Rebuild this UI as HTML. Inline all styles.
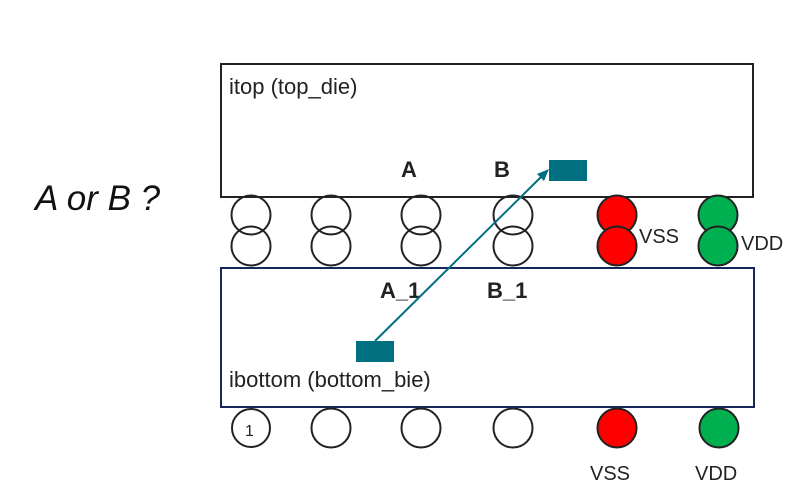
<!DOCTYPE html>
<html><head><style>
body{margin:0;background:#fff}
svg{display:block;font-family:"Liberation Sans",sans-serif}
</style></head><body>
<svg width="800" height="500" viewBox="0 0 800 500">
<rect x="221" y="64" width="532" height="133" fill="none" stroke="#222" stroke-width="2"/>
<text x="229" y="94" font-size="22" fill="#222">itop (top_die)</text>
<rect x="221" y="268" width="533" height="139" fill="none" stroke="#14285a" stroke-width="2"/>
<text x="229" y="387" font-size="22" fill="#222">ibottom (bottom_bie)</text>
<text x="35" y="210" font-size="35" font-style="italic" fill="#111">A or B ?</text>
<g fill="none" stroke="#222" stroke-width="2">
<circle cx="251" cy="215" r="19.5"/><circle cx="251" cy="246" r="19.5"/>
<circle cx="331" cy="215" r="19.5"/><circle cx="331" cy="246" r="19.5"/>
<circle cx="421" cy="215" r="19.5"/><circle cx="421" cy="246" r="19.5"/>
<circle cx="513" cy="215" r="19.5"/><circle cx="513" cy="246" r="19.5"/>
<circle cx="251" cy="428" r="19"/><circle cx="331" cy="428" r="19.5"/>
<circle cx="421" cy="428" r="19.5"/><circle cx="513" cy="428" r="19.5"/>
</g>
<g stroke="#222" stroke-width="2">
<circle cx="617" cy="215" r="19.5" fill="#f00"/><circle cx="617" cy="246" r="19.5" fill="#f00"/>
<circle cx="718" cy="215" r="19.5" fill="#00b050"/><circle cx="718" cy="246" r="19.5" fill="#00b050"/>
<circle cx="617" cy="428" r="19.5" fill="#f00"/><circle cx="719" cy="428" r="19.5" fill="#00b050"/>
</g>
<text x="245" y="436" font-size="16" fill="#222">1</text>
<g font-size="22" font-weight="bold" fill="#222">
<text x="401" y="177">A</text><text x="494" y="177">B</text>
<text x="380" y="298">A_1</text><text x="487" y="298">B_1</text>
</g>
<g font-size="20" fill="#222">
<text x="639" y="243">VSS</text><text x="741" y="250">VDD</text>
<text x="590" y="480">VSS</text><text x="695" y="480">VDD</text>
</g>
<rect x="549" y="160" width="38" height="21" fill="#007080"/>
<rect x="356" y="341" width="38" height="21" fill="#007080"/>
<line x1="375" y1="341" x2="541" y2="177" stroke="#007080" stroke-width="2"/>
<polygon points="549,169 537,174 544,181" fill="#007080"/>
</svg>
</body></html>
